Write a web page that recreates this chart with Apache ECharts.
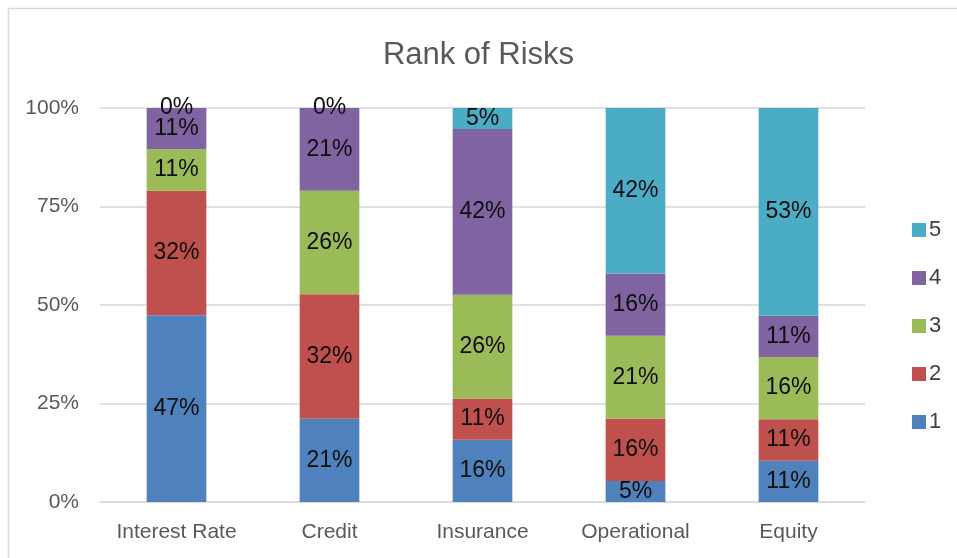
<!DOCTYPE html>
<html>
<head>
<meta charset="utf-8">
<script src="https://cdn.jsdelivr.net/npm/echarts@6/dist/echarts.min.js"></script>
<style>html,body{margin:0;padding:0;background:#fff}#c{width:957px;height:558px}</style>
</head>
<body>
<div id="c"></div>
<script>
var categories = ['Interest Rate', 'Credit', 'Insurance', 'Operational', 'Equity'];
var seriesNames = ['1', '2', '3', '4', '5'];
var rank1 = [47.4, 21.1, 15.8, 5.3, 10.5];
var rank2 = [31.6, 31.6, 10.5, 15.8, 10.5];
var rank3 = [10.5, 26.3, 26.3, 21.1, 15.8];
var rank4 = [10.5, 21.0, 42.1, 15.8, 10.5];
var rank5 = [0, 0, 5.3, 42.0, 52.7];
var yTicks = [0, 25, 50, 75, 100];

var colors = ['#4F81BD', '#C0504D', '#9BBB59', '#8064A2', '#4BACC6'];
var FONT = 'Liberation Sans';
var allData = [rank1, rank2, rank3, rank4, rank5];

var chart = echarts.init(document.getElementById('c'), null, {renderer: 'canvas'});
var series = allData.map(function (d, i) {
  return {
    name: seriesNames[i],
    type: 'bar',
    stack: 'total',
    barWidth: '39%',
    data: d,
    itemStyle: {color: colors[i]},
    label: {
      show: true,
      position: 'inside',
      color: '#0d0d0d',
      fontFamily: FONT,
      fontSize: 23,
      formatter: function (p) { return Math.round(p.value) + '%'; }
    }
  };
});

chart.setOption({
  animation: false,
  color: colors,
  graphic: [{
    type: 'rect',
    shape: {x: 8.5, y: 8.5, width: 1000, height: 600},
    style: {fill: 'none', stroke: '#D9D9D9', lineWidth: 1.5},
    silent: true
  }],
  title: {
    text: 'Rank of Risks',
    left: 'center',
    top: 35,
    textStyle: {fontFamily: FONT, fontSize: 31, fontWeight: 'normal', color: '#595959'}
  },
  legend: {
    orient: 'vertical',
    left: 907,
    top: 214,
    itemWidth: 14,
    itemHeight: 14,
    itemGap: 26,
    icon: 'rect',
    data: ['5', '4', '3', '2', '1'],
    textStyle: {fontFamily: FONT, fontSize: 22, color: '#404040', padding: [0, 0, 0, -2]}
  },
  grid: {left: 100, right: 92, top: 108, bottom: 56, containLabel: false},
  xAxis: {
    type: 'category',
    data: categories,
    axisLine: {lineStyle: {color: '#D9D9D9', width: 1.5}},
    axisTick: {show: false},
    axisLabel: {interval: 0, fontFamily: FONT, fontSize: 21, color: '#595959', margin: 20}
  },
  yAxis: {
    type: 'value',
    min: 0,
    max: 100,
    interval: 25,
    axisLine: {show: false},
    axisTick: {show: false},
    splitLine: {lineStyle: {color: '#D9D9D9', width: 1.5}},
    axisLabel: {
      fontFamily: FONT, fontSize: 21, color: '#595959', margin: 21,
      formatter: function (v) { return yTicks.indexOf(v) >= 0 ? v + '%' : ''; }
    }
  },
  series: series
});
</script>
</body>
</html>
